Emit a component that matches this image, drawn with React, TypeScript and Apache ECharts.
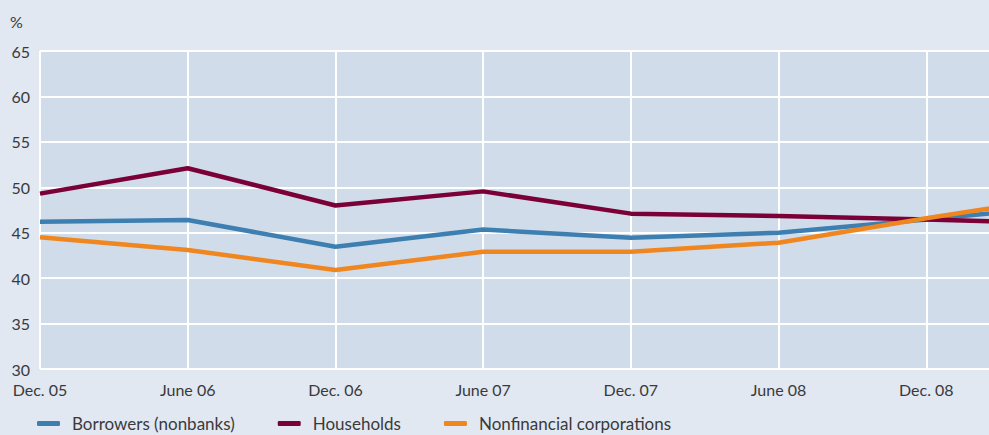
import React, { useEffect, useRef } from "react";
import * as echarts from "echarts";

const categories = ["Dec. 05", "June 06", "Dec. 06", "June 07", "Dec. 07", "June 08", "Dec. 08", "June 09"];
const borrowers = [46.2, 46.4, 43.45, 45.35, 44.45, 45.0, 46.45, 48.0];
const households = [49.3, 52.1, 48.0, 49.55, 47.1, 46.85, 46.45, 46.0];
const nonfinancial = [44.5, 43.1, 40.9, 42.9, 42.9, 43.9, 46.6, 49.1];
const yTicks = { min: 30, max: 65, interval: 5 };

const FONT = "Lato, 'DejaVu Sans', sans-serif";
const TEXT = "#3a3a3a";

export default function App() {
  const ref = useRef<HTMLDivElement>(null);
  useEffect(() => {
    if (!ref.current) return;
    const chart = echarts.init(ref.current, undefined, { renderer: "svg" });
    const mk = (name: string, data: number[], color: string) => ({
      name,
      type: "line",
      data,
      symbol: "none",
      lineStyle: { width: 4.5, color },
      itemStyle: { color },
      emphasis: { disabled: true },
    });
    chart.setOption({
      animation: false,
      backgroundColor: "#e1e8f2",
      textStyle: { fontFamily: FONT },
      graphic: [
        {
          type: "text",
          left: 10,
          top: 13,
          style: { text: "%", fontSize: 16, fill: TEXT, fontFamily: FONT },
        },
      ],
      grid: {
        left: 40,
        top: 51,
        height: 318,
        width: 1034,
        show: true,
        backgroundColor: "#d0dce9",
        borderWidth: 0,
        containLabel: false,
        outerBoundsMode: "none",
      },
      xAxis: {
        type: "category",
        data: categories,
        boundaryGap: false,
        axisLine: { show: false },
        axisTick: { show: false },
        axisLabel: {
          color: TEXT,
          fontSize: 16,
          margin: 12,
          fontFamily: FONT,
          hideOverlap: false,
          showMaxLabel: false,
        },
        splitLine: { show: true, lineStyle: { color: "#ffffff", width: 2 } },
      },
      yAxis: {
        type: "value",
        min: yTicks.min,
        max: yTicks.max,
        interval: yTicks.interval,
        axisLine: { show: false },
        axisTick: { show: false },
        axisLabel: { color: TEXT, fontSize: 16, margin: 10, fontFamily: FONT },
        splitLine: { show: true, lineStyle: { color: "#ffffff", width: 2 } },
      },
      legend: {
        left: 32,
        top: 410,
        itemWidth: 23,
        itemHeight: 5,
        itemGap: 43,
        icon: "roundRect",
        textStyle: { color: TEXT, fontSize: 17, fontFamily: FONT, padding: [0, 0, 0, 7] },
        data: ["Borrowers (nonbanks)", "Households", "Nonfinancial corporations"],
      },
      series: [
        mk("Borrowers (nonbanks)", borrowers, "#3d7fb0"),
        mk("Households", households, "#7b0038"),
        mk("Nonfinancial corporations", nonfinancial, "#f0861f"),
      ],
    });
    return () => chart.dispose();
  }, []);
  return (
    <div
      ref={ref}
      style={{ position: "fixed", left: 0, top: 0, width: 989, height: 435 }}
    />
  );
}
